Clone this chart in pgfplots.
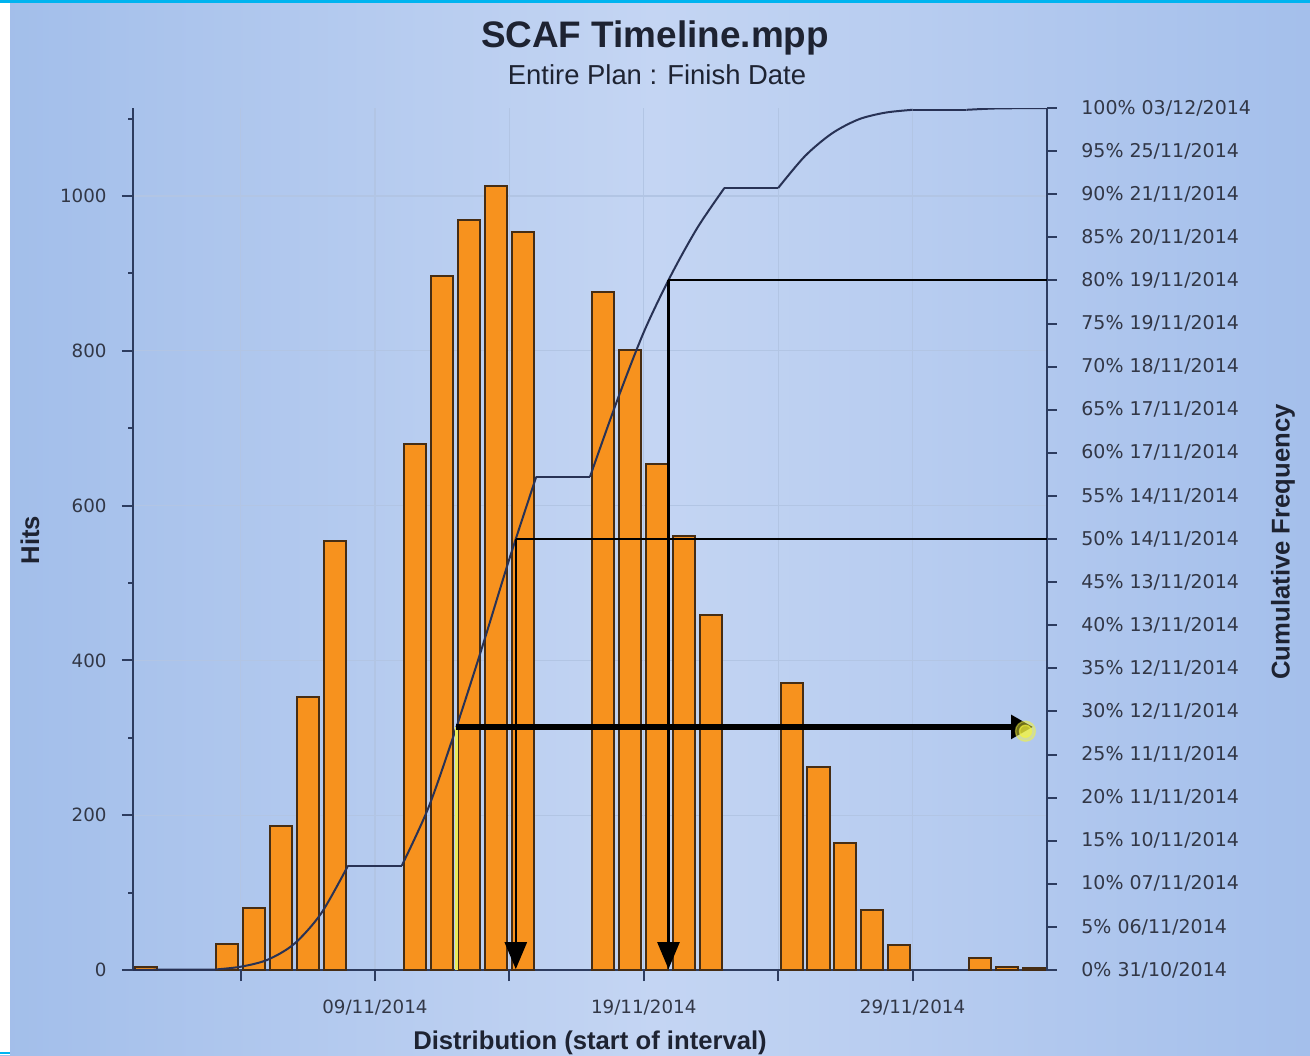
\documentclass[border=0pt]{standalone}
\usepackage{pgfplots}
\pgfplotsset{compat=1.18}
\usepackage{pgfplotstable}
\usepackage{fontspec}
\setmainfont{Liberation Sans}
\newfontfamily\tickfont{DejaVu Sans}
\usetikzlibrary{arrows.meta}

\definecolor{bgL}{RGB}{162,190,234}
\definecolor{bgM}{RGB}{196,213,243}
\definecolor{bgR}{RGB}{164,191,235}
\definecolor{axcol}{RGB}{45,60,95}
\definecolor{barfill}{RGB}{247,146,30}
\definecolor{baredge}{RGB}{70,45,20}
\definecolor{curvecol}{RGB}{40,50,85}
\definecolor{ticktext}{RGB}{50,55,70}
\definecolor{titlecol}{RGB}{30,35,50}
\definecolor{gridc}{RGB}{178,197,228}
\definecolor{framecol}{RGB}{0,180,240}
\definecolor{yellowline}{RGB}{235,235,90}
\definecolor{glow}{RGB}{245,245,60}

\pgfplotstableread{
x hits
0.5 4
3.5 34
4.5 80
5.5 186
6.5 353
7.5 554
10.5 680
11.5 897
12.5 969
13.5 1013
14.5 953
17.5 876
18.5 801
19.5 654
20.5 561
21.5 459
24.5 371
25.5 262
26.5 164
27.5 78
28.5 32
31.5 15
32.5 4
33.5 2
}\hitsdata

\begin{document}
\begin{tikzpicture}
\useasboundingbox (0,0) rectangle (131mm,105.5mm);
\clip (0,0) rectangle (131mm,105.5mm);
\shade[left color=bgL, right color=bgR, middle color=bgM] (0,0) rectangle (131mm,105.5mm);
\fill[white] (0,0) rectangle (1mm,105.5mm);
\fill[framecol] (0,105.2mm) rectangle (131mm,105.5mm);
\fill[framecol] (0,0.1mm) rectangle (1mm,0.3mm);

\begin{axis}[
  at={(13.3mm,8.5mm)}, anchor=south west, scale only axis,
  width=91.4mm, height=86.2mm,
  xmin=0, xmax=34, ymin=0, ymax=1113.7,
  axis x line*=bottom, axis y line*=left,
  axis line style={axcol, line width=0.2mm, -},
  xtick={4,9,14,19,24,29},
  xticklabels={,09/11/2014,,19/11/2014,,29/11/2014},
  ytick={0,200,...,1000},
  minor ytick={100,300,...,1100},
  tick align=outside,
  major tick length=1.1mm, minor tick length=0.5mm,
  tick style={axcol, line width=0.2mm},
  xmajorgrids, ymajorgrids,
  grid style={gridc, line width=0.12mm},
  /pgf/number format/assume math mode=true,
  /pgf/number format/1000 sep={},
  ticklabel style={font=\tickfont\fontsize{5.2}{6}\selectfont, text=ticktext},
  yticklabel style={xshift=-0.3mm},
  xticklabel style={yshift=-0.7mm},
]
\addplot[ybar, bar width=0.82, fill=barfill, draw=baredge, line width=0.2mm] table[x=x,y=hits]{\hitsdata};
\end{axis}

\begin{axis}[
  at={(13.3mm,8.5mm)}, anchor=south west, scale only axis,
  width=91.4mm, height=86.2mm,
  xmin=0, xmax=34, ymin=0, ymax=100,
  axis x line=none, axis y line*=right,
  axis line style={axcol, line width=0.2mm, -},
  ytick={0,5,...,100},
  yticklabels={0\% 31/10/2014,5\% 06/11/2014,10\% 07/11/2014,15\% 10/11/2014,20\% 11/11/2014,25\% 11/11/2014,30\% 12/11/2014,35\% 12/11/2014,40\% 13/11/2014,45\% 13/11/2014,50\% 14/11/2014,55\% 14/11/2014,60\% 17/11/2014,65\% 17/11/2014,70\% 18/11/2014,75\% 19/11/2014,80\% 19/11/2014,85\% 20/11/2014,90\% 21/11/2014,95\% 25/11/2014,100\% 03/12/2014},
  tick align=outside,
  major tick length=1mm,
  tick style={axcol, line width=0.2mm},
  ticklabel style={font=\tickfont\fontsize{5.4}{6}\selectfont, text=ticktext},
  yticklabel style={anchor=west, xshift=1.2mm},
]
% cumulative frequency curve
\addplot[curvecol, line width=0.2mm] coordinates {(0,0)(1,0.04)(3,0.04)};
\addplot[curvecol, line width=0.2mm, smooth] coordinates {(3,0.04)(4,0.38)(5,1.18)(6,3.04)(7,6.57)(8,12.11)};
\addplot[curvecol, line width=0.2mm] coordinates {(8,12.11)(10,12.11)};
\addplot[curvecol, line width=0.2mm, smooth] coordinates {(10,12.11)(11,18.91)(12,27.88)(13,37.56)(14,47.69)(15,57.22)};
\addplot[curvecol, line width=0.2mm] coordinates {(15,57.22)(17,57.22)};
\addplot[curvecol, line width=0.2mm, smooth] coordinates {(17,57.22)(18,65.98)(19,73.99)(20,80.52)(21,86.13)(22,90.72)};
\addplot[curvecol, line width=0.2mm] coordinates {(22,90.72)(24,90.72)};
\addplot[curvecol, line width=0.2mm, smooth] coordinates {(24,90.72)(25,94.43)(26,97.05)(27,98.69)(28,99.47)(29,99.79)};
\addplot[curvecol, line width=0.2mm] coordinates {(29,99.79)(31,99.79)};
\addplot[curvecol, line width=0.2mm, smooth] coordinates {(31,99.79)(32,99.94)(33,99.98)(34,100)};
% 50% and 80% guides
\addplot[black, line width=0.2mm] coordinates {(34,50)(14.24,50)};
\addplot[black, line width=0.25mm, -{Triangle[length=2.7mm,width=2.2mm]}] coordinates {(14.24,50)(14.24,0.1)};
\addplot[black, line width=0.2mm] coordinates {(34,80)(19.92,80)};
\addplot[black, line width=0.25mm, -{Triangle[length=2.7mm,width=2.2mm]}] coordinates {(19.92,80)(19.92,0.1)};
% annotation arrow
\addplot[yellowline, line width=0.3mm] coordinates {(12.03,28.2)(12.03,0)};
\addplot[color=glow, only marks, mark=*, mark size=1.0mm, opacity=0.45] coordinates {(33.2,27.7)};
\addplot[color=glow, only marks, mark=*, mark size=0.6mm, opacity=0.6] coordinates {(33.2,27.7)};
\addplot[black, line width=0.6mm, -{Triangle[length=2.2mm,width=2.3mm]}] coordinates {(12.03,28.2)(33.48,28.2)};
\end{axis}

\node[anchor=base, font=\bfseries\fontsize{10.5}{12}\selectfont, text=titlecol] at (65.5mm,100.8mm) {SCAF Timeline.mpp};
\node[anchor=base, font=\fontsize{7.8}{9}\selectfont, text=titlecol] at (65.7mm,97.1mm) {Entire Plan : Finish Date};
\node[rotate=90, font=\bfseries\fontsize{7.3}{8}\selectfont, text=titlecol] at (3.0mm,51.5mm) {Hits};
\node[rotate=90, font=\bfseries\fontsize{7.3}{8}\selectfont, text=titlecol] at (128.3mm,51.3mm) {Cumulative Frequency};
\node[anchor=base, font=\bfseries\fontsize{7.3}{8}\selectfont, text=titlecol] at (59mm,0.6mm) {Distribution (start of interval)};
\end{tikzpicture}
\end{document}
